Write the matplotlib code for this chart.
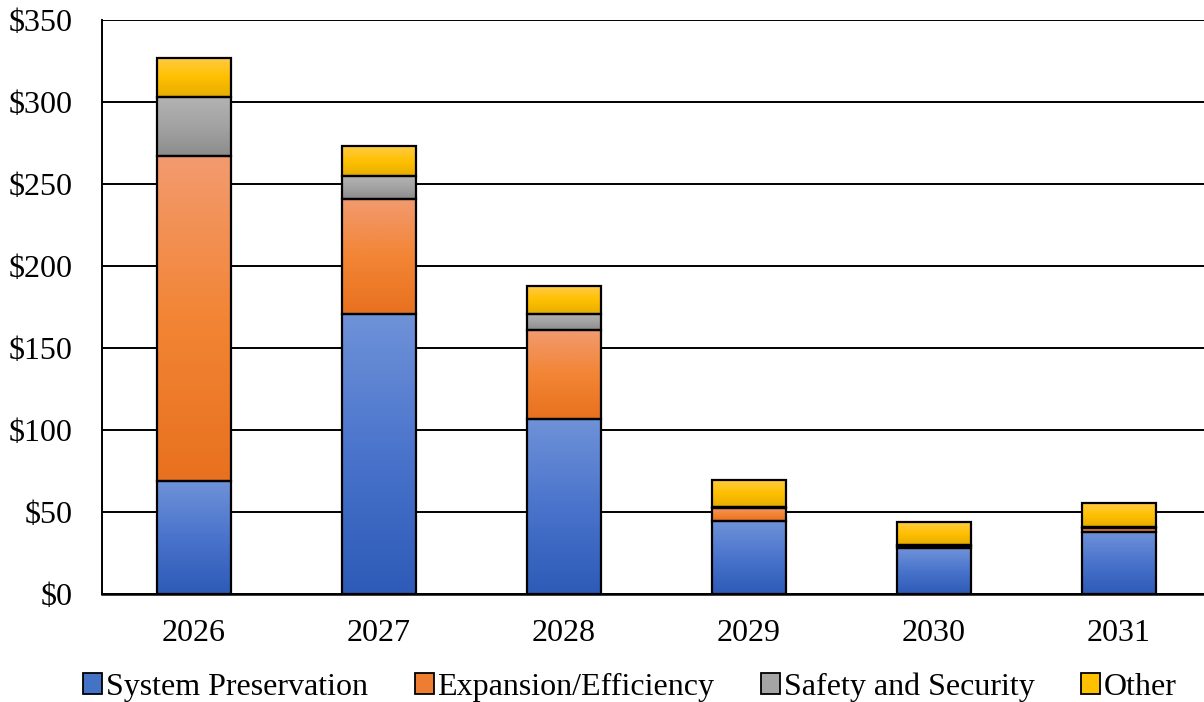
import numpy as np
import matplotlib
matplotlib.use("Agg")
import matplotlib.pyplot as plt
from matplotlib.colors import LinearSegmentedColormap
from matplotlib.patches import Patch
from matplotlib.ticker import FuncFormatter, MultipleLocator

years = ["2026", "2027", "2028", "2029", "2030", "2031"]
series_names = ["System Preservation", "Expansion/Efficiency", "Safety and Security", "Other"]
system_preservation = [69, 171, 107, 44.5, 28, 38]
expansion_efficiency = [198, 70, 54, 8, 1, 2]
safety_security = [36, 14, 10, 0.3, 1, 0.8]
other = [24, 18, 17, 17, 14, 14.5]

series = [system_preservation, expansion_efficiency, safety_security, other]
gradients = [
    ["#6f92d8", "#4a74cc", "#2d5bb7"],
    ["#f29a6e", "#f28535", "#e8711f"],
    ["#b3b3b3", "#a3a3a3", "#8c8c8c"],
    ["#ffcb45", "#ffc000", "#e6ad00"],
]
legend_colors = ["#4472c4", "#ed7d31", "#a5a5a5", "#ffc000"]

plt.rcParams['font.family'] = ['Liberation Serif', 'DejaVu Serif']

fig = plt.figure(figsize=(12.04, 7.02), dpi=100)
ax = fig.add_axes([101.5/1204, 1 - 594/702, 1110/1204, 574/702])

x = np.arange(len(years))
bottom = np.zeros(len(years))
for vals, grad in zip(series, gradients):
    vals = np.array(vals, dtype=float)
    bars = ax.bar(x, vals, bottom=bottom, width=0.4, facecolor="none",
                  edgecolor="black", linewidth=1.6, zorder=4)
    cmap = LinearSegmentedColormap.from_list("g", grad[::-1])
    grad_img = np.linspace(0, 1, 100).reshape(-1, 1)
    for p in bars:
        x0, y0 = p.get_x(), p.get_y()
        w, h = p.get_width(), p.get_height()
        if h <= 0:
            continue
        ax.imshow(grad_img, extent=(x0, x0 + w, y0, y0 + h), origin="lower",
                  cmap=cmap, aspect="auto", zorder=3, interpolation="bilinear")
    bottom += vals

ax.set_xlim(-0.5, 5.5)
ax.set_ylim(0, 350)
ax.yaxis.set_major_locator(MultipleLocator(50))
ax.yaxis.set_major_formatter(FuncFormatter(lambda v, p: f"${int(v)}"))
ax.set_xticks(x)
ax.set_xticklabels(years)
ax.grid(axis="y", color="black", linewidth=1.4, zorder=1)
ax.set_axisbelow(True)
for s in ["top", "right"]:
    ax.spines[s].set_visible(False)
ax.spines["left"].set_linewidth(1.4)
ax.spines["bottom"].set_linewidth(1.8)
ax.tick_params(axis="both", length=0, labelsize=23)
ax.tick_params(axis="y", pad=21)
ax.tick_params(axis="x", pad=18)

handles = [Patch(facecolor=c, edgecolor="black", linewidth=1.3) for c in legend_colors]
fig.legend(handles, series_names, loc="center", bbox_to_anchor=(630/1204, 1 - 687/702),
           ncol=4, frameon=False, fontsize=23, handlelength=0.6, handleheight=0.6,
           handletextpad=0.12, columnspacing=1.45)

fig.savefig("out.png", dpi=100)
